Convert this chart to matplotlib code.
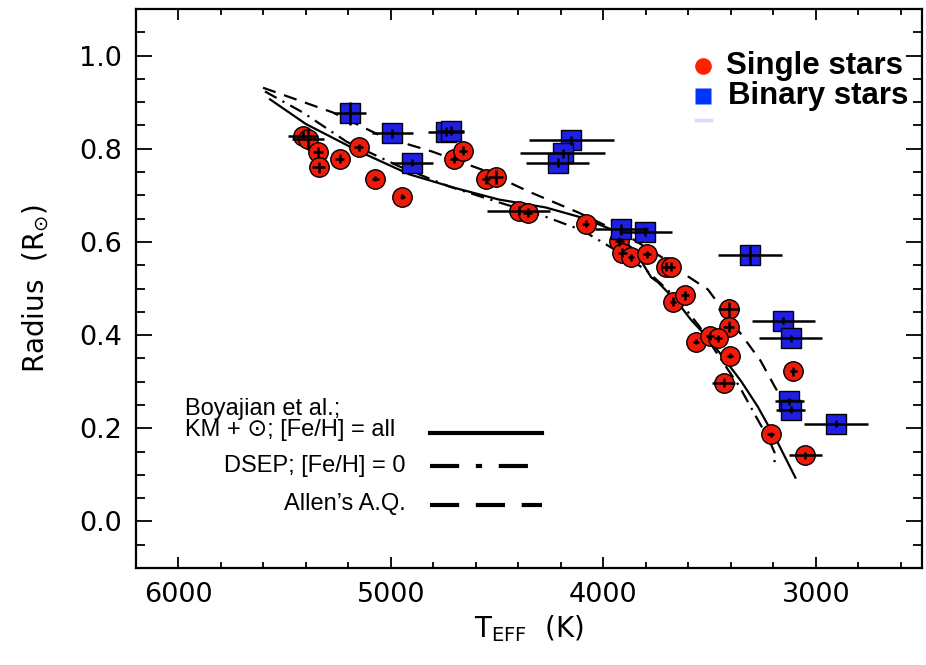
import matplotlib
matplotlib.use("Agg")
import matplotlib.pyplot as plt
from matplotlib.ticker import MultipleLocator

# single stars: Teff (K), radius (Rsun), errors
single_teff = [5415, 5391, 5344, 5340, 5241, 5152, 5073, 4946, 4703, 4660,
               4553, 4506, 4398, 4356, 4084, 3925, 3911, 3869, 3794, 3705,
               3681, 3672, 3616, 3410, 3410, 3564, 3499, 3461, 3405, 3433,
               3105, 3213, 3049]
single_rad = [0.828, 0.820, 0.792, 0.760, 0.779, 0.803, 0.736, 0.697, 0.777, 0.796,
              0.734, 0.740, 0.667, 0.663, 0.639, 0.601, 0.577, 0.567, 0.573, 0.547,
              0.547, 0.472, 0.485, 0.455, 0.418, 0.386, 0.397, 0.393, 0.356, 0.298,
              0.322, 0.187, 0.142]
single_terr = [70, 75, 25, 30, 20, 20, 15, 10, 20, 20,
               20, 35, 148, 20, 15, 20, 20, 15, 20, 20,
               20, 15, 20, 50, 25, 15, 20, 20, 15, 55,
               15, 15, 77]
single_rerr = [0.010, 0.022, 0.012, 0.012, 0.010, 0.008, 0.005, 0.005, 0.008, 0.010,
               0.010, 0.015, 0.010, 0.010, 0.008, 0.010, 0.010, 0.008, 0.008, 0.010,
               0.010, 0.010, 0.010, 0.016, 0.012, 0.005, 0.008, 0.008, 0.006, 0.010,
               0.010, 0.005, 0.008]

# binary stars
binary_teff = [5194, 4993, 4899, 4740, 4717, 4150, 4192, 4215, 3916, 3803,
               3311, 3152, 3119, 3124, 3119, 2904]
binary_rad = [0.876, 0.833, 0.770, 0.837, 0.839, 0.818, 0.790, 0.770, 0.627, 0.622,
              0.571, 0.431, 0.393, 0.258, 0.240, 0.210]
binary_terr = [75, 96, 98, 84, 60, 200, 200, 148, 125, 125,
               150, 150, 150, 70, 70, 150]
binary_rerr = [0.024, 0.010, 0.008, 0.010, 0.010, 0.010, 0.010, 0.010, 0.012, 0.010,
               0.020, 0.008, 0.008, 0.008, 0.008, 0.008]

# model / relation curves
boy_teff = [5569, 5400, 5148, 4913, 4700, 4492, 4272, 4100, 3963, 3850, 3775,
            3742, 3650, 3588, 3500, 3429, 3350, 3274, 3180, 3096]
boy_rad = [0.906, 0.853, 0.794, 0.745, 0.716, 0.691, 0.674, 0.652, 0.627, 0.580,
           0.524, 0.513, 0.470, 0.433, 0.390, 0.348, 0.300, 0.247, 0.170, 0.094]
dsep_teff = [5593, 5415, 5208, 4960, 4726, 4492, 4272, 4100, 3963, 3800, 3648,
             3550, 3461, 3360, 3274, 3220, 3194, 3194]
dsep_rad = [0.923, 0.878, 0.815, 0.762, 0.719, 0.685, 0.654, 0.625, 0.588, 0.540,
            0.476, 0.420, 0.358, 0.290, 0.219, 0.175, 0.148, 0.116]
allen_teff = [5602, 5274, 5040, 4806, 4571, 4351, 4117, 3883, 3700, 3602, 3508,
              3368, 3260, 3194, 3130]
allen_rad = [0.931, 0.878, 0.826, 0.794, 0.755, 0.708, 0.663, 0.612, 0.560, 0.526,
             0.498, 0.412, 0.345, 0.290, 0.240]

RED = "#f01a0a"
BLUE = "#1f1fe6"
LEG = ["Liberation Sans", "DejaVu Sans"]

plt.rcParams["font.family"] = ["DejaVu Sans"]
fig = plt.figure(figsize=(9.26, 6.65), dpi=100)
ax = fig.add_axes([136 / 926, 1 - 568 / 665, 786 / 926, 559 / 665])

ax.plot(boy_teff, boy_rad, "-", color="k", lw=1.6, zorder=2)
ax.plot(dsep_teff, dsep_rad, color="k", lw=1.6, zorder=2,
        linestyle=(0, (6, 3, 1, 3)))
ax.plot(allen_teff, allen_rad, color="k", lw=1.6, zorder=2,
        linestyle=(0, (6, 4)))

ax.plot(single_teff, single_rad, "o", ms=14, mfc=RED, mec="k", mew=1.0, zorder=3)
ax.errorbar(single_teff, single_rad, xerr=single_terr, yerr=single_rerr,
            fmt="none", ecolor="k", elinewidth=1.8, capsize=0, zorder=4)
ax.plot(binary_teff, binary_rad, "s", ms=14, mfc=BLUE, mec="k", mew=1.0, zorder=3)
ax.errorbar(binary_teff, binary_rad, xerr=binary_terr, yerr=binary_rerr,
            fmt="none", ecolor="k", elinewidth=1.8, capsize=0, zorder=4)

ax.set_xlim(6200, 2500)
ax.set_ylim(-0.1, 1.1)
ax.xaxis.set_major_locator(MultipleLocator(1000))
ax.xaxis.set_minor_locator(MultipleLocator(200))
ax.yaxis.set_major_locator(MultipleLocator(0.2))
ax.yaxis.set_minor_locator(MultipleLocator(0.05))
ax.yaxis.set_major_formatter(matplotlib.ticker.FormatStrFormatter("%.1f"))
for s in ax.spines.values():
    s.set_linewidth(1.6)
ax.tick_params(axis="both", which="both", direction="in", top=True, right=True,
               width=1.3, labelsize=19.5, pad=10)
ax.tick_params(axis="x", which="major", length=8)
ax.tick_params(axis="x", which="minor", length=4)
ax.tick_params(axis="y", which="major", length=11.5)
ax.tick_params(axis="y", which="minor", length=6.5)
ax.set_xlabel(r"T$_{\mathrm{EFF}}$  (K)", fontsize=20, labelpad=4)
ax.set_ylabel(r"Radius  (R$_{\odot}$)", fontsize=20, labelpad=20)

# upper-right symbol key
tr = ax.transAxes
ax.plot([0.721], [0.898], "o", ms=12, mfc="#ff2200", mec="none", transform=tr)
ax.plot([0.721], [0.844], "s", ms=11, mfc="#0033ff", mec="none", transform=tr)
ax.plot([0.712, 0.731], [0.801, 0.801], color="#d4dcf8", lw=2.5, transform=tr)
ax.text(0.751, 0.898, "Single stars", transform=tr, family=LEG, fontsize=22.5,
        fontweight="bold", va="center", ha="left")
ax.text(0.753, 0.844, "Binary stars", transform=tr, family=LEG, fontsize=22.5,
        fontweight="bold", va="center", ha="left")

# lower-left line key
ax.text(0.062, 0.266, "Boyajian et al.;\nKM + \u2299; [Fe/H] = all", transform=tr,
        family=LEG, fontsize=17, va="center", ha="left", linespacing=0.95)
ax.text(0.343, 0.1825, "DSEP; [Fe/H] = 0", transform=tr, family=LEG,
        fontsize=17, va="center", ha="right")
ax.text(0.343, 0.114, "Allen\u2019s A.Q.", transform=tr, family=LEG,
        fontsize=17, va="center", ha="right")
ax.plot([0.374, 0.517], [0.2415, 0.2415], "-", color="k", lw=3, transform=tr)
ax.plot([0.374, 0.505], [0.1825, 0.1825], color="k", lw=3, transform=tr,
        linestyle=(0, (7, 4, 1.5, 4)))
ax.plot([0.374, 0.517], [0.1127, 0.1127], color="k", lw=3, transform=tr,
        linestyle=(0, (7, 4)))

fig.savefig("out.png", dpi=100)
